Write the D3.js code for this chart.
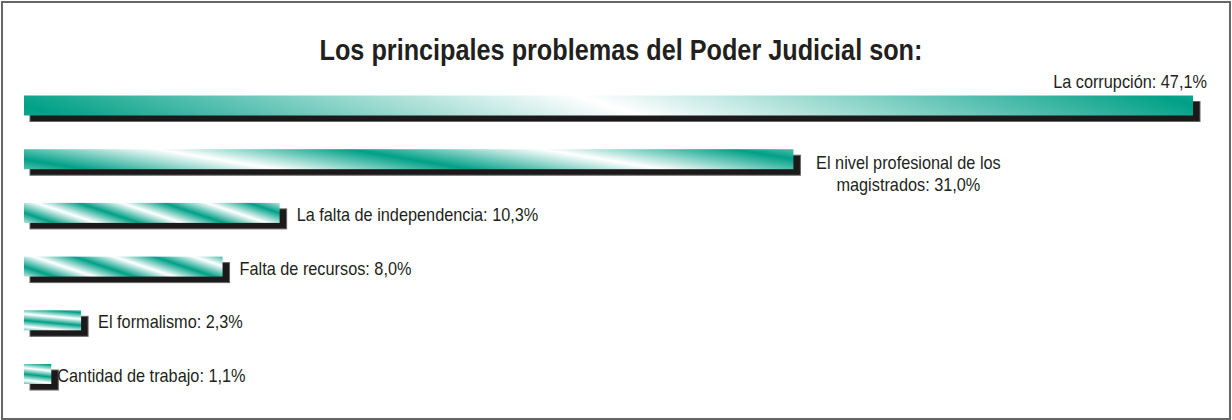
<!DOCTYPE html>
<html lang="es">
<head>
  <meta charset="UTF-8">
  <title>Los principales problemas del Poder Judicial</title>
  <script src="https://d3js.org/d3.v7.min.js"></script>
  <style>
    body {
      margin: 0;
      padding: 0;
      background: #ffffff;
    }
    svg {
      display: block;
      font-family: 'Liberation Sans', Arial, sans-serif;
    }
  </style>
</head>
<body>
  <svg id="chart" width="1232" height="420"></svg>
<script>
  // datos
  const title = "Los principales problemas del Poder Judicial son:";
  const categories = [
    "La corrupción",
    "El nivel profesional de los magistrados",
    "La falta de independencia",
    "Falta de recursos",
    "El formalismo",
    "Cantidad de trabajo"
  ];
  const values = [47.1, 31.0, 10.3, 8.0, 2.3, 1.1];

  // estilo de las rayas de cada barra (periodo horizontal, inclinación)
  const stripePeriod = [1169, 385, 85, 80, 140, 110];
  const stripeSlant = [3, 6, 3, 3, 11, 9];

  const teal = "#00a087";
  const ink = "#231f20";
  const fmt = v => d3.format(".1f")(v).replace(".", ",");

  // la fuente original es condensada: se estrecha el texto
  function condense(sel, f) {
    sel.each(function () {
      const w = this.getComputedTextLength();
      d3.select(this)
        .attr("textLength", w * f)
        .attr("lengthAdjust", "spacingAndGlyphs");
    });
  }

  const svg = d3.select("#chart");
  const width = 1232, height = 420;

  // marco
  svg.append("rect")
    .attr("x", 2).attr("y", 2)
    .attr("width", width - 4).attr("height", height - 3)
    .attr("fill", "#fff")
    .attr("stroke", "#666")
    .attr("stroke-width", 2);

  svg.append("text")
    .attr("x", 621)
    .attr("y", 60)
    .attr("text-anchor", "middle")
    .attr("fill", ink)
    .style("font-size", "29px")
    .style("font-weight", "bold")
    .text(title)
    .call(condense, 0.87);

  const x = d3.scaleLinear().domain([0, 47.1]).range([24, 1193]);
  const y = d3.scalePoint().domain(categories).range([105.5, 374]);
  const barH = 20;

  const data = categories.map((c, i) => ({ cat: c, value: values[i], i }));

  // degradados
  const defs = svg.append("defs");
  data.forEach(d => {
    const P = stripePeriod[d.i], k = stripeSlant[d.i];
    const s = P / (1 + k * k);
    const x0 = x(0), yc = y(d.cat);
    const g = defs.append("linearGradient")
      .attr("id", "grad" + d.i)
      .attr("gradientUnits", "userSpaceOnUse")
      .attr("spreadMethod", "repeat")
      .attr("x1", x0).attr("y1", yc)
      .attr("x2", x0 + s).attr("y2", yc - k * s);
    g.append("stop").attr("offset", 0).attr("stop-color", teal);
    g.append("stop").attr("offset", 0.5).attr("stop-color", "#ffffff");
    g.append("stop").attr("offset", 1).attr("stop-color", teal);
  });

  const bars = svg.append("g")
    .selectAll("g")
    .data(data)
    .join("g");

  // sombra
  bars.append("rect")
    .attr("x", x(0) + 6)
    .attr("y", d => y(d.cat) - barH / 2 + 6)
    .attr("width", d => x(d.value) - x(0) + 1)
    .attr("height", barH)
    .attr("fill", "#1c191a")
    .attr("stroke", "#666")
    .attr("stroke-width", 1);

  bars.append("rect")
    .attr("x", x(0))
    .attr("y", d => y(d.cat) - barH / 2)
    .attr("width", d => x(d.value) - x(0))
    .attr("height", barH)
    .attr("fill", d => `url(#grad${d.i})`);

  // etiquetas
  const labels = svg.append("g")
    .attr("fill", ink)
    .style("font-size", "18.5px");

  data.forEach(d => {
    const txt = `${d.cat}: ${fmt(d.value)}%`;
    const cy = y(d.cat);
    if (d.i === 0) {
      labels.append("text")
        .attr("x", x(d.value) + 14)
        .attr("y", cy - 17.5)
        .attr("text-anchor", "end")
        .text(txt)
        .call(condense, 0.88);
    } else if (d.i === 1) {
      labels.append("text")
        .attr("text-anchor", "middle")
        .attr("x", x(d.value) + 115).attr("y", cy + 9.5)
        .text("El nivel profesional de los")
        .call(condense, 0.88);
      labels.append("text")
        .attr("text-anchor", "middle")
        .attr("x", x(d.value) + 115).attr("y", cy + 31.5)
        .text(`magistrados: ${fmt(d.value)}%`)
        .call(condense, 0.88);
    } else {
      labels.append("text")
        .attr("x", x(d.value) + (d.i === 5 ? 6 : 17))
        .attr("y", cy + 8)
        .text(txt)
        .call(condense, 0.88);
    }
  });
</script>
</body>
</html>
